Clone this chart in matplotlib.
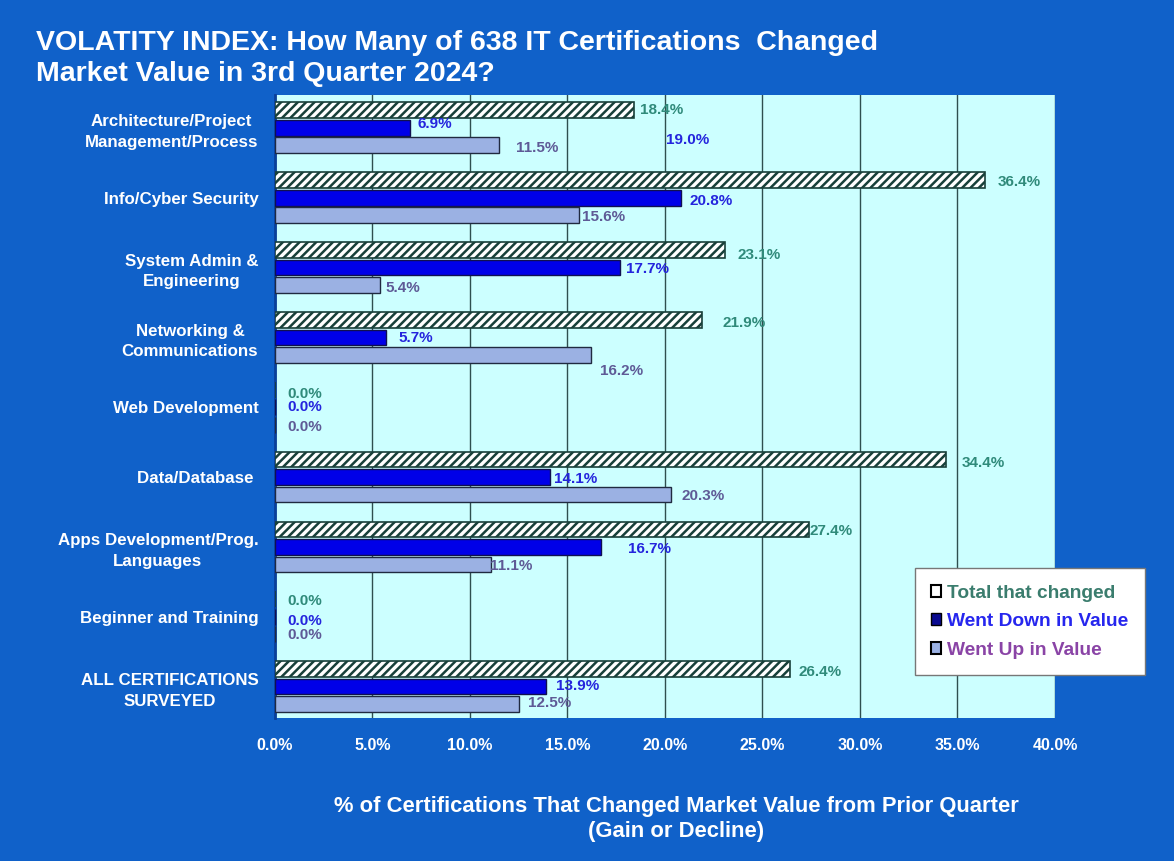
import matplotlib.pyplot as plt
import numpy as np
from matplotlib.patches import Patch

plt.rcParams['font.family'] = ['Liberation Sans', 'DejaVu Sans']
plt.rcParams['hatch.linewidth'] = 1.8

categories = ["Architecture/Project\nManagement/Process", "Info/Cyber Security",
              "System Admin &\nEngineering", "Networking &\nCommunications",
              "Web Development", "Data/Database ", "Apps Development/Prog.\nLanguages",
              "Beginner and Training", "ALL CERTIFICATIONS\nSURVEYED"]
total_changed = [18.4, 36.4, 23.1, 21.9, 0.0, 34.4, 27.4, 0.0, 26.4]
went_down = [6.9, 20.8, 17.7, 5.7, 0.0, 14.1, 16.7, 0.0, 13.9]
went_up = [11.5, 15.6, 5.4, 16.2, 0.0, 20.3, 11.1, 0.0, 12.5]
ticks = [0, 5, 10, 15, 20, 25, 30, 35, 40]

# label offsets in pixels from bar end (dx, dy with dy downward)
off_total = [(6, 0), (13, 2), (12, 5), (20, 3), (12, 4), (16, 3), (0, 2), (12, 2), (9, 3)]
off_down = [(8, -4), (9, 3), (6, 1), (12, 1), (12, 0), (4, 2), (27, 2), (12, 4), (10, -1)]
off_up = [(17, 3), (3, 2), (5, 3), (9, 16), (12, 2), (11, 1), (-1, 2), (12, 1), (9, -1)]

BG = '#1061c9'
fig = plt.figure(figsize=(11.74, 8.61), dpi=100, facecolor=BG)
ax = fig.add_axes([0.2342, 0.1660, 0.6644, 0.7237])
ax.set_facecolor('#ccffff')

y = np.arange(len(categories))
h = 0.225
step = 0.25
ax.barh(y - step, total_changed, height=h, color='white', edgecolor='#18403a',
        hatch='////', linewidth=1.2, zorder=3)
ax.barh(y, went_down, height=h, color='#0000e8', edgecolor='#101050', linewidth=1.0, zorder=3)
ax.barh(y + step, went_up, height=h, color='#9bb1e3', edgecolor='#202a40', linewidth=1.0, zorder=3)

def put(vals, ys, offs, color):
    for v, yy, (dx, dy) in zip(vals, ys, offs):
        ax.annotate(f"{v:.1f}%", xy=(v, yy), xytext=(dx, -dy), textcoords='offset pixels',
                    ha='left', va='center', fontsize=11, fontweight='bold', color=color, zorder=5)

put(total_changed, y - step, off_total, '#2f8a7a')
put(went_down, y, off_down, '#2424dd')
put(went_up, y + step, off_up, '#5e5a96')
ax.annotate("19.0%", xy=(total_changed[0], y[0] - step), xytext=(32, -30),
            textcoords='offset pixels', ha='left', va='center', fontsize=11,
            fontweight='bold', color='#2424dd', zorder=5)

ax.set_xlim(0, 40)
ax.set_ylim(8.45, -0.47)
ax.set_xticks(ticks)
ax.set_xticklabels([f"{t:.1f}%" for t in ticks], color='white', fontsize=11.5, fontweight='bold')
ax.set_yticks(y)
ax.set_yticklabels(categories, color='white', fontsize=12.2, fontweight='bold',
                   multialignment='center', linespacing=1.45)
ax.tick_params(length=0, pad=14)
ax.tick_params(axis='y', pad=12)
ax.grid(axis='x', color='#2f4f4f', linewidth=1.0, zorder=1)
for s in ['top', 'right', 'bottom']:
    ax.spines[s].set_visible(False)
ax.spines['left'].set_color('#0a3f99')
ax.spines['left'].set_linewidth(2)

fig.text(0.031, 0.932, "VOLATITY INDEX: How Many of 638 IT Certifications  Changed\nMarket Value in 3rd Quarter 2024?",
         color='white', fontsize=20.5, fontweight='bold', ha='left', va='center', linespacing=1.22)
fig.text(0.576, 0.049, "% of Certifications That Changed Market Value from Prior Quarter\n(Gain or Decline)",
         color='white', fontsize=15.8, fontweight='bold', ha='center', va='center', linespacing=1.25)

handles = [Patch(facecolor='white', edgecolor='black', linewidth=1.5),
           Patch(facecolor='#0a0a90', edgecolor='black'),
           Patch(facecolor='#9bb1e3', edgecolor='black', linewidth=1.5)]
leg = fig.legend(handles, ["Total that changed", "Went Down in Value", "Went Up in Value"],
                 loc='upper left', bbox_to_anchor=(0.779, 0.340), frameon=True, fancybox=False,
                 framealpha=1, handlelength=0.55, handleheight=0.55, handletextpad=0.3,
                 labelspacing=0.6, borderpad=0.85, borderaxespad=0,
                 prop={'size': 13.8, 'weight': 'bold'})
leg.get_frame().set_edgecolor('#777777')
leg.get_frame().set_linewidth(1.0)
for t, c in zip(leg.get_texts(), ['#3b7d6e', '#2626ee', '#8a44a6']):
    t.set_color(c)

fig.savefig('out.png', dpi=100, facecolor=BG)
